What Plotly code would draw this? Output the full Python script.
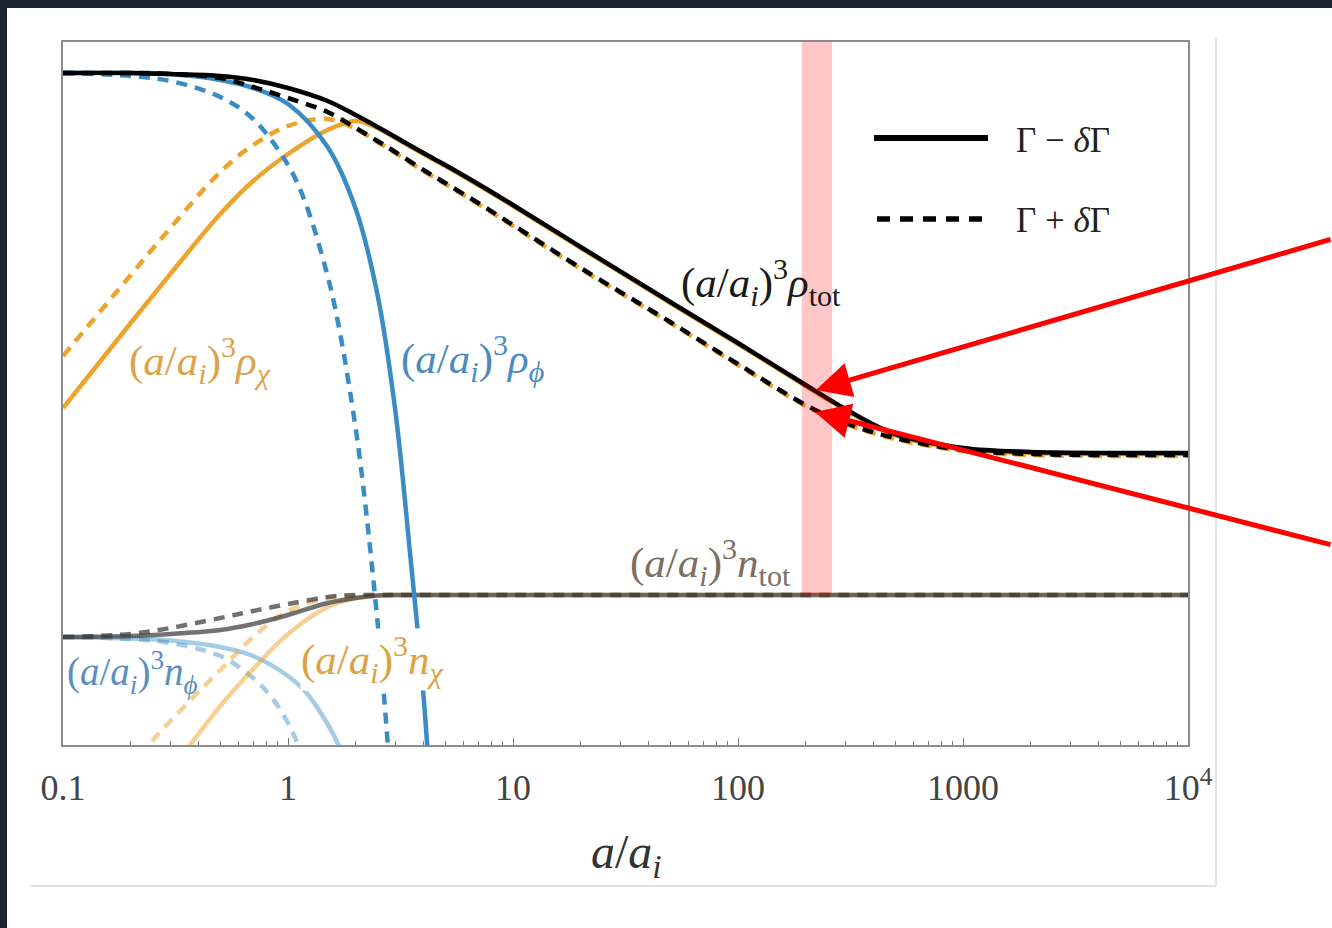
import math
import plotly.graph_objects as go

# ---------------- data (y in arbitrary log units) ----------------
X_TOT = [0.1, 0.2, 0.3, 0.5, 0.7, 1, 1.5, 2, 2.5, 3, 4, 5, 7, 10, 20, 50, 100, 200, 300, 500, 1000, 2000, 5000, 10000]
RHO_TOT_MINUS = [6.72, 6.72, 6.71, 6.69, 6.65, 6.57, 6.44, 6.30, 6.18, 6.08, 5.92, 5.80, 5.61, 5.40, 4.98, 4.43, 4.02, 3.60, 3.36, 3.11, 2.97, 2.93, 2.92, 2.92]
RHO_TOT_PLUS = [6.72, 6.72, 6.71, 6.67, 6.58, 6.47, 6.33, 6.17, 6.04, 5.93, 5.75, 5.62, 5.42, 5.20, 4.77, 4.23, 3.81, 3.40, 3.22, 3.07, 2.95, 2.91, 2.90, 2.90]
RHO_CHI_MINUS = [3.37, 4.22, 4.71, 5.31, 5.64, 5.91, 6.15, 6.24, 6.17, 6.07, 5.91, 5.79, 5.60, 5.39, 4.97, 4.42, 4.01, 3.59, 3.35, 3.10, 2.96, 2.92, 2.91, 2.91]
RHO_CHI_PLUS = [3.89, 4.70, 5.17, 5.73, 6.00, 6.19, 6.26, 6.16, 6.03, 5.92, 5.74, 5.61, 5.41, 5.19, 4.76, 4.22, 3.80, 3.39, 3.21, 3.06, 2.94, 2.90, 2.89, 2.89]

X_PHI_MINUS = [0.1, 0.2, 0.3, 0.5, 0.7, 1, 1.5, 2, 2.5, 3, 3.5, 4, 4.5]
RHO_PHI_MINUS = [6.72, 6.72, 6.71, 6.65, 6.57, 6.41, 5.98, 5.36, 4.50, 3.34, 1.88, 0.50, -1.2]
X_PHI_PLUS = [0.1, 0.2, 0.3, 0.5, 0.7, 1, 1.2, 1.5, 1.7, 2, 2.2, 2.5, 2.7, 2.9, 3.1]
RHO_PHI_PLUS = [6.72, 6.69, 6.64, 6.48, 6.26, 5.80, 5.41, 4.69, 4.13, 3.16, 2.43, 1.23, 0.36, -0.59, -1.61]

X_N = [0.1, 0.2, 0.3, 0.5, 0.7, 1, 1.5, 2, 2.5, 3, 10, 100, 1000, 10000]
N_TOT_MINUS = [1.08, 1.09, 1.11, 1.15, 1.21, 1.30, 1.42, 1.47, 1.495, 1.50, 1.50, 1.50, 1.50, 1.50]
N_TOT_PLUS = [1.08, 1.11, 1.17, 1.27, 1.34, 1.41, 1.48, 1.50, 1.50, 1.50, 1.50, 1.50, 1.50, 1.50]

X_NCHI_MINUS = [0.2, 0.3, 0.4, 0.5, 0.7, 1, 1.5, 2, 2.5, 3, 10, 100, 1000, 10000]
N_CHI_MINUS = [-0.77, -0.26, 0.11, 0.39, 0.76, 1.11, 1.38, 1.47, 1.495, 1.50, 1.50, 1.50, 1.50, 1.50]
X_NCHI_PLUS = [0.1, 0.2, 0.3, 0.5, 0.7, 1, 1.5, 2, 2.5, 3, 10, 100, 1000, 10000]
N_CHI_PLUS = [-0.95, -0.2, 0.24, 0.75, 1.08, 1.34, 1.47, 1.495, 1.50, 1.50, 1.50, 1.50, 1.50, 1.50]

X_NPHI_MINUS = [0.1, 0.2, 0.3, 0.5, 0.7, 1, 1.2, 1.5, 1.7, 2]
N_PHI_MINUS = [1.08, 1.065, 1.045, 0.98, 0.89, 0.69, 0.53, 0.21, -0.03, -0.46]
X_NPHI_PLUS = [0.1, 0.2, 0.3, 0.5, 0.7, 0.85, 1, 1.1, 1.3]
N_PHI_PLUS = [1.08, 1.06, 1.02, 0.89, 0.67, 0.47, 0.22, 0.02, -0.44]

TICK_VALS = [0.1, 1, 10, 100, 1000, 10000]
TICK_TEXT = ["0.1", "1", "10", "100", "1000", "10<sup>4</sup>"]
MINOR_VALS = [k * 10 ** d for d in range(-1, 4) for k in range(2, 10)]

BAND_X = [192, 262]          # highlighted a/a_i interval
BAND_TOP, BAND_BOTTOM = 7.03, 1.50
ARROW_TIPS = [(222, 3.55), (220, 3.33)]

LEGEND_LABELS = ["Γ − <i>δ</i>Γ", "Γ + <i>δ</i>Γ"]

# ---------------- styling ----------------
W, H = 1332, 928
ML, MR, MT, MB = 63, 144, 42, 183
PW, PH = W - ML - MR, H - MT - MB

def PX(px):
    return (px - ML) / PW

def PY(py):
    return (H - MB - py) / PH

BLUE = "#3a8cc4"
ORANGE = "#eca42a"
LBLUE = "rgba(58,140,196,0.45)"
LORANGE = "rgba(236,164,42,0.5)"
GREY = "rgba(60,60,60,0.72)"
DASH = "11px,8px"
SERIF = "Liberation Serif"

fig = go.Figure()

def add(x, y, color, dash=None, width=4.5):
    fig.add_trace(go.Scatter(
        x=x, y=y, mode="lines", showlegend=False, hoverinfo="skip",
        line=dict(color=color, width=width, dash=dash or "solid", shape="spline", smoothing=1.0),
    ))

# number densities (faint)
add(X_NPHI_PLUS, N_PHI_PLUS, LBLUE, DASH)
add(X_NPHI_MINUS, N_PHI_MINUS, LBLUE)
add(X_NCHI_PLUS, N_CHI_PLUS, LORANGE, DASH)
add(X_NCHI_MINUS, N_CHI_MINUS, LORANGE)
add(X_N, N_TOT_PLUS, GREY, DASH)
add(X_N, N_TOT_MINUS, GREY)
# energy densities
add(X_TOT, RHO_CHI_PLUS, ORANGE, DASH)
add(X_TOT, RHO_CHI_MINUS, ORANGE)
add(X_PHI_PLUS, RHO_PHI_PLUS, BLUE, DASH)
add(X_PHI_MINUS, RHO_PHI_MINUS, BLUE)
add(X_TOT, RHO_TOT_PLUS, "black", DASH)
add(X_TOT, RHO_TOT_MINUS, "black")

shapes = []
# highlighted band
shapes.append(dict(type="rect", xref="x", yref="y", x0=BAND_X[0], x1=BAND_X[1],
                   y0=BAND_BOTTOM, y1=BAND_TOP, fillcolor="rgba(255,0,0,0.22)",
                   line=dict(width=0), layer="above"))
# legend samples
shapes.append(dict(type="line", xref="paper", yref="paper", x0=PX(874), x1=PX(988),
                   y0=PY(138), y1=PY(138), line=dict(color="black", width=6)))
shapes.append(dict(type="line", xref="paper", yref="paper", x0=PX(877), x1=PX(983),
                   y0=PY(219), y1=PY(219), line=dict(color="black", width=5.5, dash="13px,10px")))
# page decorations (screenshot frame)
shapes.append(dict(type="line", xref="paper", yref="paper", x0=PX(1216), x1=PX(1216),
                   y0=PY(38), y1=PY(886), line=dict(color="#dddddd", width=1.5)))
shapes.append(dict(type="line", xref="paper", yref="paper", x0=PX(30), x1=PX(1216),
                   y0=PY(886), y1=PY(886), line=dict(color="#dddddd", width=1.5)))
shapes.append(dict(type="rect", xref="paper", yref="paper", x0=PX(0), x1=PX(W),
                   y0=PY(8), y1=PY(0), fillcolor="#1c2333", line=dict(width=0)))
shapes.append(dict(type="rect", xref="paper", yref="paper", x0=PX(0), x1=PX(7),
                   y0=PY(H), y1=PY(0), fillcolor="#1c2333", line=dict(width=0)))

ann = []
PRE = "(<i>a</i>/<i>a</i><sub><i>i</i></sub>)<sup>3</sup>"
labels = [
    (PRE + "<i>ρ</i><sub><i>χ</i></sub>", 200, 360, "#dea24a", False, 43),
    (PRE + "<i>ρ</i><sub><i>ϕ</i></sub>", 472, 358, "#4a8cc0", False, 43),
    (PRE + "<i>ρ</i><sub>tot</sub>", 761, 282, "#1a1a1a", False, 43),
    (PRE + "<i>n</i><sub>tot</sub>", 710, 562, "#7a6f60", False, 43),
    (PRE + "<i>n</i><sub><i>χ</i></sub>", 372, 659, "#dca244", True, 43),
    (PRE + "<i>n</i><sub><i>ϕ</i></sub>", 132, 672, "#5a8fc2", False, 39),
]
for txt, px, py, col, bg, fs in labels:
    ann.append(dict(text=txt, xref="paper", yref="paper", x=PX(px), y=PY(py),
                    xanchor="center", yanchor="middle", showarrow=False,
                    font=dict(family=SERIF, size=fs, color=col),
                    bgcolor="white" if bg else None, borderpad=0))
# legend texts
ann.append(dict(text=LEGEND_LABELS[0], xref="paper", yref="paper", x=PX(1014), y=PY(140),
                xanchor="left", yanchor="middle", showarrow=False,
                font=dict(family=SERIF, size=35, color="#222")))
ann.append(dict(text=LEGEND_LABELS[1], xref="paper", yref="paper", x=PX(1014), y=PY(220),
                xanchor="left", yanchor="middle", showarrow=False,
                font=dict(family=SERIF, size=35, color="#222")))
# axis title
ann.append(dict(text="<i>a</i>/<i>a</i><sub><i>i</i></sub>", xref="paper", yref="paper",
                x=PX(626), y=PY(855), xanchor="center", yanchor="middle", showarrow=False,
                font=dict(family=SERIF, size=48, color="#333")))
# red arrows
for (xt, yt), (dx, dy) in zip(ARROW_TIPS, [(544, -151), (545, 133)]):
    ann.append(dict(text="", x=math.log10(xt), y=yt, xref="x", yref="y",
                    ax=dx, ay=dy, showarrow=True, arrowhead=2, arrowsize=1.4,
                    arrowwidth=5, arrowcolor="#ff0000", standoff=0))

fig.update_layout(
    width=W, height=H,
    margin=dict(l=ML, r=MR, t=MT, b=MB, autoexpand=False),
    paper_bgcolor="white", plot_bgcolor="white",
    shapes=shapes, annotations=ann, showlegend=False,
    xaxis=dict(type="log", range=[-1, 4], tickvals=TICK_VALS, ticktext=TICK_TEXT,
               ticks="inside", ticklen=7, tickwidth=1, tickcolor="#777",
               minor=dict(tickvals=MINOR_VALS, ticks="inside", ticklen=4, tickcolor="#777", showgrid=False),
               showgrid=False, zeroline=False, showline=True, linecolor="#8c8c8c", linewidth=1.5,
               mirror=True, tickfont=dict(family=SERIF, size=36, color="#444"),
               ticklabelstandoff=10, automargin=False),
    yaxis=dict(range=[0, 7.03], showticklabels=False, ticks="", showgrid=False, zeroline=False,
               showline=True, linecolor="#8c8c8c", linewidth=1.5, mirror=True, automargin=False),
)

fig.write_html("out.html", config={"displayModeBar": False},
               post_script="document.body.style.margin='0px';document.body.style.overflow='hidden';")
